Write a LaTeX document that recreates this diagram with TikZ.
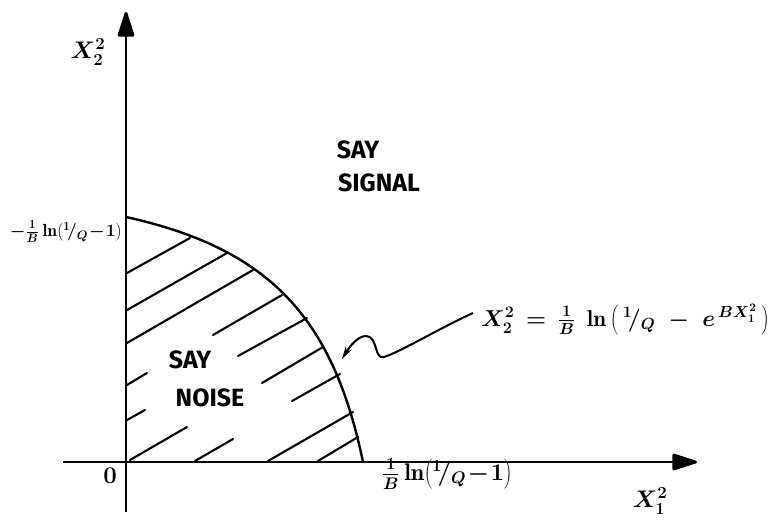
\RequirePackage{fix-cm}
\documentclass[tikz,border=0pt]{standalone}
\usepackage{fontspec}
\setsansfont{Fira Sans}
\usetikzlibrary{arrows.meta}
\begin{document}
\begin{tikzpicture}[x=1pt,y=-1pt,
  axis/.style={line width=2.8pt,-{Triangle[length=28pt,width=17pt,round]}},
  curve/.style={line width=2.4pt},
  hatch/.style={line width=2.1pt,line cap=round},
  lead/.style={line width=2pt,-{Stealth[length=13pt,width=7pt]}},
  word/.style={font=\fontsize{25}{28}\sffamily\bfseries,inner sep=0pt},
  lab/.style={font=\fontsize{24}{28}\selectfont\boldmath,inner sep=0pt},
  smalllab/.style={font=\fontsize{17.5}{21}\selectfont\boldmath,inner sep=0pt},
  eqlab/.style={font=\fontsize{23}{27}\selectfont\boldmath,inner sep=0pt}]
\useasboundingbox (0,0) rectangle (781,525);
\pgfmathsetmacro\B{0.0065}
\pgfmathsetmacro\s{exp(\B*237)}
\pgfmathsetmacro\c{1+\s}
% axes
\coordinate (o) at (126,462);
\coordinate (xs) at (63,462);
\coordinate (xe) at (697,462);
\coordinate (ys) at (126,512);
\coordinate (ye) at (126,12);
\draw[axis] (xs) -- (xe);
\draw[axis] (ys) -- (ye);
% boundary curve
\draw[curve] plot[domain=0:235.5,samples=120] ({126+\x},{462-245*ln(\c-exp(\B*\x))/ln(\s)}) -- (363,462);
% hatching
\foreach \a/\b in {{127,273}/{190,238},{127,310}/{227,253},{127,343}/{253,270},
  {213,335}/{282,295},{238,356}/{307,318},{127,385}/{147,373},{262,383}/{323,347},
  {127,420}/{145,410},{292,401}/{340,374},{130,460}/{187,427},{195,461}/{233,439},
  {268,461}/{353,412},{318,461}/{358,437}}
  \draw[hatch] (\a) -- (\b);
% labels
\node[lab] (x2) at (88,52) {$X_2^2$};
\node[lab] (x1) at (650,501) {$X_1^2$};
\node[lab] (zero) at (110,476) {$0$};
\node[smalllab,anchor=east] (yint) at (122,232) {$-\frac{1}{B}\ln\!\left({}^1\!/_Q\!-\!1\right)$};
\node[lab] (xint) at (447,474) {$\frac{1}{B}\ln\!\left({}^1\!/_Q\!-\!1\right)$};
\node[word] (say1) at (358,150) {SAY};
\node[word] (sig) at (379,183) {SIGNAL};
\node[word] (say2) at (190,360) {SAY};
\node[word] (noise) at (210,398) {NOISE};
\node[eqlab,anchor=west] (eq) at (481,320) {$X_2^2 \,=\, \frac{1}{B}\;\ln\left(\,{}^1\!/_Q \;-\; e^{\,BX_1^2}\,\right)$};
% leader
\coordinate (tip) at (342,359);
\draw[lead] (eq.west) ++(-8,-7) .. controls (440,328) and (400,352) .. (384,357)
  .. controls (374,360) and (378,336) .. (366,336)
  .. controls (358,336) and (350,346) .. (tip);
\end{tikzpicture}
\end{document}
